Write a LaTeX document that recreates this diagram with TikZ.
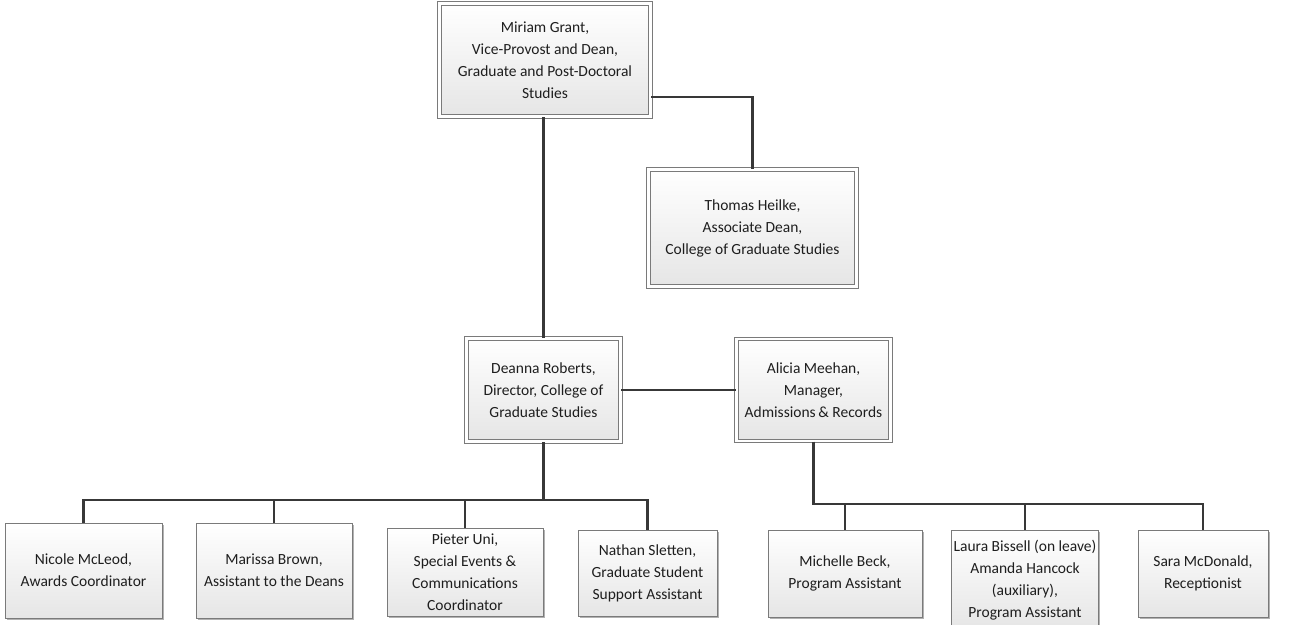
\documentclass[tikz,border=0pt]{standalone}
\usepackage{fontspec}
\setmainfont{Carlito}
\usetikzlibrary{shadows}
\definecolor{linec}{HTML}{383838}
\definecolor{boxline}{HTML}{7A7A7A}
\definecolor{txt}{HTML}{1E1E1E}
\tikzset{
  card/.style={rectangle, draw=boxline, line width=1pt, top color=white, bottom color=black!10,
    align=center, text=txt, inner sep=2pt,
    font=\fontsize{15.5}{22}\selectfont,
    drop shadow={shadow xshift=2pt, shadow yshift=-2pt, opacity=0.3, fill=black}},
  dcard/.style={card, double=white, double distance=2.6pt},
  conn/.style={draw=linec, line width=2.2pt}
}
\begin{document}
\begin{tikzpicture}[x=1pt, y=-1pt]
\useasboundingbox (0,0) rectangle (1290,624);
\fill[white] (0,0) rectangle (1290,624);
% top tier
\node[dcard, minimum width=211pt, minimum height=113pt] (miriam) at (545,60)
  {Miriam Grant,\\Vice-Provost and Dean,\\Graduate and Post-Doctoral\\Studies};
\node[dcard, minimum width=208pt, minimum height=117pt] (thomas) at (752.5,228)
  {Thomas Heilke,\\Associate Dean,\\College of Graduate Studies};
\node[dcard, minimum width=154pt, minimum height=103pt] (deanna) at (543.5,390)
  {Deanna Roberts,\\Director, College of\\Graduate Studies};
\node[dcard, minimum width=154pt, minimum height=102pt] (alicia) at (813.5,390)
  {Alicia Meehan,\\Manager,\\Admissions\,\& Records};
% bottom tier
\node[card, minimum width=157pt, minimum height=95pt] (nicole) at (83.5,570.5)
  {Nicole McLeod,\\Awards Coordinator};
\node[card, minimum width=156pt, minimum height=95pt] (marissa) at (274,570.5)
  {Marissa Brown,\\Assistant to the Deans};
\node[card, minimum width=156pt, minimum height=88pt] (pieter) at (465,572)
  {Pieter Uni,\\Special Events \&\\Communications\\Coordinator};
\node[card, minimum width=139pt, minimum height=86pt] (nathan) at (647.5,573)
  {Nathan Sletten,\\Graduate Student\\Support Assistant};
\node[card, minimum width=154pt, minimum height=87pt] (michelle) at (845,573.5)
  {Michelle Beck,\\Program Assistant};
\node[card, minimum width=144pt, minimum height=100pt] (laura) at (1025,580)
  {Laura Bissell (on leave)\\Amanda Hancock\\(auxiliary),\\Program Assistant};
\node[card, minimum width=130pt, minimum height=87pt] (sara) at (1203,573.5)
  {Sara McDonald,\\Receptionist};
% bus coordinates
\coordinate (busL) at (543,500);
\coordinate (busR) at (811,504);
% connectors
\draw[conn] (deanna.north) -- (deanna.north |- miriam.south);
\draw[conn] ([yshift=-37pt]miriam.east) -| (thomas.north);
\draw[conn] (deanna.east) -- (alicia.west);
\draw[conn] (deanna.south) -- (deanna.south |- busL);
\draw[conn] (nicole.north) |- (nathan.north |- busL) -- (nathan.north);
\draw[conn] (marissa.north) -- (marissa.north |- busL);
\draw[conn] (pieter.north) -- (pieter.north |- busL);
\draw[conn] (alicia.south) |- (sara.north |- busR) -- (sara.north);
\draw[conn] (michelle.north) -- (michelle.north |- busR);
\draw[conn] (laura.north) -- (laura.north |- busR);
\end{tikzpicture}
\end{document}
